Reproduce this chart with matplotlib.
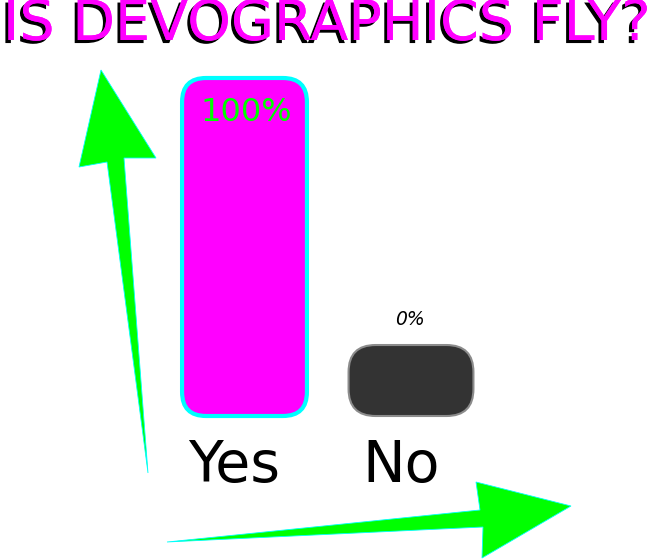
import matplotlib
matplotlib.use("Agg")
import matplotlib.pyplot as plt
from matplotlib.patches import FancyBboxPatch, Polygon
from matplotlib import patheffects as pe
from matplotlib.transforms import Affine2D

# ---- data ----
categories = ["Yes", "No"]
values = [100, 0]
value_labels = ["100%", "0%"]
title = "IS DEVOGRAPHICS FLY?"

# ---- styles ----
W, H = 654, 559
fig = plt.figure(figsize=(W / 100, H / 100), dpi=100)
fig.patch.set_facecolor("white")

ax_left, ax_bottom_px, ax_top_px, ax_w = 161.25, 416, 78, 333
ax = fig.add_axes([ax_left / W, (H - ax_bottom_px) / H, ax_w / W,
                   (ax_bottom_px - ax_top_px) / H])
ax.set_xlim(-0.5, 1.5)
ax.set_ylim(0, 100)
ax.axis("off")

min_h = 21
face = ["#ff00ff", "#333333"]
edge = ["#00ffff", "#8c8c8c"]
lw = [3.0, 1.5]
radius_px = [24, 27]
px_per_x = ax_w / 2.0
aspect = (100 / (ax_bottom_px - ax_top_px)) * px_per_x

xs = list(range(len(categories)))
shown = [max(v, min_h) for v in values]
bars = ax.bar(xs, shown, width=0.75)
for i, rect in enumerate(bars):
    x0, y0, w, h = rect.get_x(), rect.get_y(), rect.get_width(), rect.get_height()
    rect.remove()
    p = FancyBboxPatch((x0, y0), w, h,
                       boxstyle=f"round,pad=0,rounding_size={radius_px[i] / px_per_x}",
                       mutation_aspect=aspect, facecolor=face[i],
                       edgecolor=edge[i], linewidth=lw[i], clip_on=False)
    ax.add_patch(p)

# value labels
for i, (v, s) in enumerate(zip(values, value_labels)):
    if v >= 50:
        ax.annotate(s, xy=(i, shown[i]), xytext=(1.5, -43), textcoords="offset pixels",
                    ha="center", va="baseline", fontsize=23, color="#00ff00")
    else:
        ax.annotate(s, xy=(i, shown[i]), xytext=(-1, 20), textcoords="offset pixels",
                    ha="center", va="baseline", fontsize=13.5, style="italic",
                    color="black")

# category labels
for i, c in enumerate(categories):
    ax.annotate(c, xy=(i, 0), xytext=(-10, -66), textcoords="offset pixels",
                ha="center", va="baseline", fontsize=41, color="black",
                annotation_clip=False)

# title
fig.text(0.5, (H - 40) / H, title, ha="center", va="baseline", fontsize=40,
         color="#ff00ff",
         path_effects=[pe.withSimplePatchShadow(offset=(-2.2, -2.2),
                                                shadow_rgbFace="black", alpha=1),
                       pe.Normal()])

# decorative arrows (figure pixel space, y from top)
tpx = Affine2D().scale(1 / W, -1 / H).translate(0, 1) + fig.transFigure
up_arrow = [(101, 70), (156, 158), (124, 158), (148, 473), (107, 162), (79, 167)]
right_arrow = [(167, 542), (480, 510), (476, 482), (571, 506), (482, 558), (483, 527)]
for pts in (up_arrow, right_arrow):
    fig.patches.append(Polygon(pts, closed=True, transform=tpx, facecolor="#00ff00",
                               edgecolor="#00ffff", linewidth=0.6))

fig.savefig("out.png", dpi=100)
